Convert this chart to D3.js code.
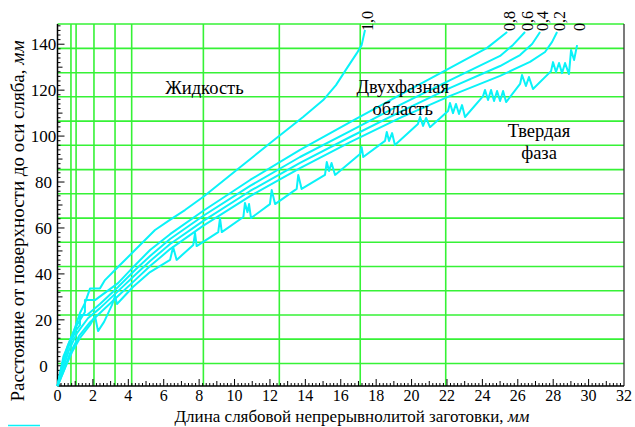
<!DOCTYPE html>
<html>
<head>
<meta charset="utf-8">
<script src="https://cdn.jsdelivr.net/npm/d3@7"></script>
<style>
  html, body { margin: 0; padding: 0; background: #fff; }
  svg { display: block; }
</style>
</head>
<body>
<div id="chart"></div>
<script>
// solid-fraction isolines (x: length, y: distance from surface)
const f10 = [[0,-8.8],[0.33,3.95],[0.89,14.3],[1.27,23.0],[1.55,27.3],[1.84,33.7],[2.40,33.7],[2.68,37.3],[3.43,43.1],[4.38,50.4],[5.51,59.1],[6.35,63.5],[7.20,67.8],[8.24,73.6],[10.12,85.2],[12.00,96.9],[13.89,108.4],[15.01,115.7],[15.73,122.2],[16.35,129.6],[16.90,136.0],[17.18,139.6],[17.37,146.2]];
const f08 = [[0,-8.8],[0.25,0.3],[0.59,9.0],[0.99,16.4],[1.55,23.4],[1.55,28.6],[2.12,28.6],[3.42,36.0],[4.38,43.8],[5.23,50.4],[6.36,57.3],[8.22,67.4],[10.88,80.9],[13.70,94.0],[16.53,106.1],[19.35,117.9],[22.18,129.7],[24.27,138.4],[25.40,145.3]];
const f06 = [[0,-8.8],[0.25,-0.6],[0.59,7.7],[1.05,15.5],[1.27,17.7],[1.27,22.1],[1.67,22.1],[2.40,26.9],[3.42,34.3],[4.38,41.7],[5.23,47.8],[6.36,55.2],[8.22,65.2],[10.88,78.3],[13.70,90.9],[16.53,102.2],[19.35,113.6],[22.18,124.4],[25.00,134.9],[25.73,139.7],[26.41,145.3]];
const f04 = [[0,-8.8],[0.31,-1.0],[0.65,6.8],[1.10,14.2],[1.72,20.7],[2.40,25.1],[3.42,32.5],[4.38,39.5],[5.23,45.6],[6.36,53.0],[8.22,63.0],[10.88,76.1],[13.70,88.3],[16.53,99.6],[19.35,110.5],[22.18,121.0],[25.00,130.5],[26.13,135.3],[26.81,140.1],[27.26,145.3]];
const f02 = [[0,-8.8],[0.37,-1.9],[0.71,5.5],[1.21,12.9],[1.84,19.0],[2.40,23.0],[3.42,30.4],[4.38,37.3],[5.23,43.4],[6.36,50.8],[8.22,60.9],[10.88,73.9],[13.70,86.1],[16.53,97.4],[19.35,107.9],[22.18,117.5],[25.00,126.2],[26.69,132.3],[27.54,136.6],[27.94,141.0],[28.22,145.3]];
const f00 = [[0,-8.8],[0.42,-1.0],[0.82,6.0],[1.27,12.1],[1.84,17.8],[2.12,21.7],[2.29,15.1],[2.63,19.1],[3.08,26.5],[3.25,30.4],[3.36,26.9],[4.26,34.3],[5.23,40.8],[6.36,46.1],[6.53,51.7],[6.73,46.1],[7.67,52.6],[7.77,57.8],[7.86,52.1],[9.08,58.2],[9.18,64.3],[9.28,58.2],[10.50,64.8],[10.59,70.9],[10.73,66.9],[10.82,70.4],[10.93,64.3],[12.00,70.4],[12.10,76.5],[12.29,70.4],[13.51,77.0],[13.60,83.1],[13.79,77.0],[15.11,83.1],[15.21,88.7],[15.34,84.8],[15.48,88.3],[15.68,83.1],[17.09,92.2],[17.18,95.2],[17.27,90.9],[18.50,97.9],[18.60,101.8],[18.73,97.9],[18.90,101.3],[19.06,96.1],[20.36,105.3],[20.48,108.3],[20.65,104.4],[20.82,107.9],[21.04,103.9],[22.06,110.9],[22.17,114.4],[22.34,110.0],[22.51,114.0],[22.68,109.6],[22.85,113.5],[23.02,108.3],[24.04,117.4],[24.15,120.1],[24.32,115.7],[24.49,120.1],[24.66,115.3],[24.83,119.6],[25.00,115.3],[25.17,119.6],[25.34,114.8],[26.13,122.7],[26.24,126.6],[26.46,121.8],[26.63,125.7],[26.86,120.5],[27.88,128.3],[27.99,132.2],[28.16,127.9],[28.33,131.8],[28.50,127.4],[28.67,131.8],[28.89,127.0],[29.01,137.5],[29.18,133.1],[29.35,139.6]];

const curves = [f10, f08, f06, f04, f02, f00];
const curveLabels = ['1,0', '0,8', '0,6', '0,4', '0,2', '0'];

const xTickLabels = [0,2,4,6,8,10,12,14,16,18,20,22,24,26,28,30,32];
const yTickLabels = [0,20,40,60,80,100,120,140];
const xGrid = [0.76, 1.05, 2.06, 3.25, 4.19, 8.24, 12.53, 17.1, 21.93];
const yGrid = [1.0, 11.6, 22.1, 32.7, 43.2, 53.8, 64.3, 74.9, 85.4, 96.0, 106.5, 117.1, 127.6, 138.2, 148.8];

const regionLabels = [
  { lines: ['Жидкость'], x: 8.3, y: 118.3 },
  { lines: ['Двухфазная', 'область'], x: 19.5, y: 118.8 },
  { lines: ['Твердая', 'фаза'], x: 27.2, y: 99.8 }
];

const W = 635, H = 427;
const cyan = '#0af2f8';
const green = '#36f236';
const serif = "'Liberation Serif', 'Times New Roman', 'DejaVu Serif', serif";

const svg = d3.select('#chart').append('svg')
  .attr('width', W).attr('height', H)
  .attr('font-family', serif);

svg.append('rect').attr('width', W).attr('height', H).attr('fill', '#fff');

const x = d3.scaleLinear().domain([0, 32]).range([57.5, 624]);
const y = d3.scaleLinear().domain([-8.8, 148.8]).range([386, 24]);

// grid
svg.append('g').selectAll('line').data(yGrid).join('line')
  .attr('x1', x(0)).attr('x2', x(32))
  .attr('y1', d => y(d)).attr('y2', d => y(d))
  .attr('stroke', green).attr('stroke-width', 1.6);
svg.append('g').selectAll('line').data(xGrid).join('line')
  .attr('x1', d => x(d)).attr('x2', d => x(d))
  .attr('y1', y(-8.8)).attr('y2', y(148.8))
  .attr('stroke', green).attr('stroke-width', 1.6);

// frame
svg.append('line').attr('x1', x(0)).attr('x2', x(0)).attr('y1', y(-8.8)).attr('y2', y(148.8))
  .attr('stroke', '#000').attr('stroke-width', 1.5);
svg.append('line').attr('x1', x(32)).attr('x2', x(32)).attr('y1', y(-8.8)).attr('y2', y(148.8))
  .attr('stroke', '#333').attr('stroke-width', 1.3);
svg.append('line').attr('x1', x(0)).attr('x2', x(32)).attr('y1', y(-8.8)).attr('y2', y(-8.8))
  .attr('stroke', '#000').attr('stroke-width', 1.5);

// x ticks (inside, pointing up)
const xt = d3.range(0, 160).map(i => i / 5);
svg.append('g').selectAll('line').data(xt).join('line')
  .attr('x1', d => x(d)).attr('x2', d => x(d))
  .attr('y1', y(-8.8))
  .attr('y2', (d, i) => y(-8.8) - (i % 10 === 0 ? 7 : i % 5 === 0 ? 5 : 3))
  .attr('stroke', '#000').attr('stroke-width', 1);
svg.append('g').selectAll('text').data(xTickLabels).join('text')
  .attr('x', d => x(d)).attr('y', 401)
  .attr('text-anchor', 'middle').attr('font-size', 16)
  .text(d => d);

// y ticks (inside, pointing right)
const yt = d3.range(-8, 149, 2);
svg.append('g').selectAll('line').data(yt).join('line')
  .attr('x1', x(0))
  .attr('x2', d => x(0) + (d % 20 === 0 ? 7 : d % 10 === 0 ? 5 : 3))
  .attr('y1', d => y(d)).attr('y2', d => y(d))
  .attr('stroke', '#000').attr('stroke-width', 1);
svg.append('g').selectAll('text').data(yTickLabels).join('text')
  .attr('x', 43.5).attr('y', d => y(d) + 6)
  .attr('text-anchor', 'middle').attr('font-size', 17)
  .text(d => d);

// curves
const line = d3.line().x(d => x(d[0])).y(d => y(d[1]));
svg.append('g').selectAll('path').data(curves).join('path')
  .attr('d', line)
  .attr('fill', 'none').attr('stroke', cyan).attr('stroke-width', 2)
  .attr('stroke-linejoin', 'round');

// curve labels
svg.append('g').selectAll('text').data(curves).join('text')
  .attr('transform', (d) => `translate(${x(d[d.length - 1][0]) + 8},31) rotate(-90)`)
  .attr('font-size', 16)
  .text((d, i) => curveLabels[i]);

// region labels
regionLabels.forEach(r => {
  const t = svg.append('text').attr('text-anchor', 'middle').attr('font-size', 18.5);
  r.lines.forEach((s, i) => {
    t.append('tspan').attr('x', x(r.x)).attr('y', y(r.y) + i * 22).text(s);
  });
});

// axis titles
const xt1 = svg.append('text').attr('x', 352).attr('y', 422)
  .attr('text-anchor', 'middle').attr('font-size', 17);
xt1.append('tspan').text('Длина слябовой непрерывнолитой заготовки, ');
xt1.append('tspan').attr('font-style', 'italic').text('мм');

const yt1 = svg.append('text').attr('transform', 'translate(24,221) rotate(-90)')
  .attr('text-anchor', 'middle').attr('font-size', 19);
yt1.append('tspan').text('Расстояние от поверхности до оси слябa, ');
yt1.append('tspan').attr('font-style', 'italic').text('мм');

// legend stub
svg.append('line').attr('x1', 8).attr('x2', 40).attr('y1', 425.5).attr('y2', 425.5)
  .attr('stroke', cyan).attr('stroke-width', 1.5);
</script>
</body>
</html>
